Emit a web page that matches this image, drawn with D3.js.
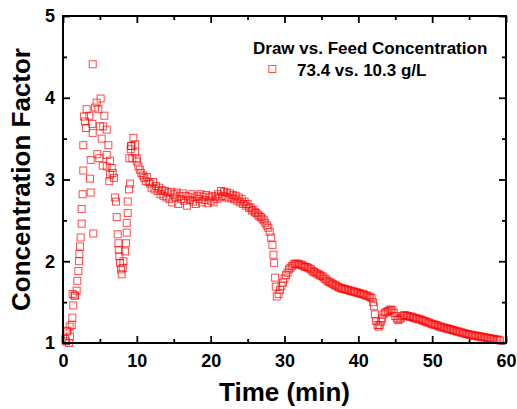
<!DOCTYPE html>
<html><head><meta charset="utf-8">
<script src="https://cdn.jsdelivr.net/npm/d3@7"></script>
<style>
html,body{margin:0;padding:0;background:#fff;}
svg text{font-family:Arial,"Liberation Sans",sans-serif;font-weight:bold;fill:#000;}
</style></head>
<body>
<svg id="chart" width="517" height="409"></svg>
<script>
// ---- data ----
const legendTitle = "Draw vs. Feed Concentration";
const seriesName = "73.4 vs. 10.3 g/L";
const xTicks = [0, 10, 20, 30, 40, 50, 60];
const xMinorTicks = [5, 15, 25, 35, 45, 55];
const yTicks = [1, 2, 3, 4, 5];
const yMinorTicks = [1.5, 2.5, 3.5, 4.5];

// early, scattered part (0 - 10 min)
const earlyTime = [0.3,0.4,0.5,0.6,0.8,0.95,0.9,1.18,1.27,1.31,1.4,1.55,1.63,1.85,1.94,2.08,2.17,2.22,2.3,2.39,2.53,2.53,2.66,2.75,2.75,2.85,2.98,3.12,3.2,3.57,3.66,3.75,3.75,3.97,4.02,4.02,4.1,4.34,4.56,4.65,4.79,4.92,5.0,5.1,5.24,5.38,5.45,5.6,5.92,5.92,5.92,6.14,6.27,6.37,6.37,6.6,6.73,6.9,7.05,7.18,7.27,7.41,7.5,7.55,7.63,7.72,7.86,7.95,8.09,8.18,8.4,8.54,8.63,8.63,8.77,8.77,8.94,8.99,9.08,9.17,9.21,9.27,9.39,9.53,9.76,9.76,9.98];
const earlyFactor = [1.05,1.02,1.14,1.15,1.0,1.08,1.2,1.22,1.31,1.6,1.46,1.58,1.58,1.64,1.76,1.88,2.0,2.09,2.18,2.29,2.46,2.64,2.82,3.11,3.42,3.77,3.71,3.63,3.86,3.78,3.01,2.84,3.24,3.68,3.57,4.41,2.34,3.88,3.94,3.31,3.86,3.26,3.65,3.99,3.5,3.17,3.65,3.78,3.61,3.3,3.16,3.42,2.98,3.23,3.06,3.14,3.08,3.02,2.78,2.73,2.54,2.33,2.22,2.14,2.06,1.98,1.9,1.84,1.92,2.0,2.12,2.22,2.35,2.47,2.59,2.73,2.88,3.26,2.95,3.37,3.41,3.41,3.26,3.51,3.43,3.33,3.26];

// dense part (10 - 59 min)
const denseTime = [10.0,10.2,10.4,10.6,10.8,11.0,11.2,11.4,11.6,11.8,12.0,12.2,12.4,12.6,12.8,13.0,13.2,13.4,13.6,13.8,14.0,14.2,14.4,14.6,14.8,15.0,15.2,15.4,15.6,15.8,16.0,16.2,16.4,16.6,16.8,17.0,17.2,17.4,17.6,17.8,18.0,18.2,18.4,18.6,18.8,19.0,19.2,19.4,19.6,19.8,20.0,20.2,20.4,20.6,20.8,21.0,21.2,21.4,21.6,21.8,22.0,22.2,22.4,22.6,22.8,23.0,23.2,23.4,23.6,23.8,24.0,24.2,24.4,24.6,24.8,25.0,25.2,25.4,25.6,25.8,26.0,26.2,26.4,26.6,26.8,27.0,27.2,27.4,27.6,27.8,28.0,28.2,28.36,28.5,28.6,28.73,28.82,28.95,29.2,29.4,29.6,29.8,30.0,30.2,30.4,30.6,30.8,31.0,31.2,31.4,31.6,31.8,32.0,32.2,32.4,32.6,32.8,33.0,33.2,33.4,33.6,33.8,34.0,34.2,34.4,34.6,34.8,35.0,35.2,35.4,35.6,35.8,36.0,36.2,36.4,36.6,36.8,37.0,37.2,37.4,37.6,37.8,38.0,38.2,38.4,38.6,38.8,39.0,39.2,39.4,39.6,39.8,40.0,40.2,40.4,40.6,40.8,41.0,41.2,41.4,41.6,41.8,42.0,42.1,42.25,42.4,42.6,42.75,42.9,43.05,43.2,43.4,43.6,43.8,44.0,44.2,44.4,44.6,44.8,45.0,45.2,45.4,45.6,45.8,46.0,46.2,46.4,46.6,46.8,47.0,47.2,47.4,47.6,47.8,48.0,48.2,48.4,48.6,48.8,49.0,49.2,49.4,49.6,49.8,50.0,50.2,50.4,50.6,50.8,51.0,51.2,51.4,51.6,51.8,52.0,52.2,52.4,52.6,52.8,53.0,53.2,53.4,53.6,53.8,54.0,54.2,54.4,54.6,54.8,55.0,55.2,55.4,55.6,55.8,56.0,56.2,56.4,56.6,56.8,57.0,57.2,57.4,57.6,57.8,58.0,58.2,58.4,58.6,58.8,59.0,59.2];
const denseFactor = [3.22,3.16,3.12,3.08,3.05,3.02,2.98,3.03,2.97,2.95,2.9,2.97,2.88,2.92,2.86,2.9,2.82,2.87,2.8,2.86,2.78,2.84,2.76,2.85,2.72,2.82,2.78,2.84,2.7,2.8,2.76,2.83,2.74,2.8,2.68,2.79,2.75,2.82,2.73,2.78,2.7,2.8,2.76,2.82,2.72,2.79,2.75,2.81,2.71,2.78,2.74,2.8,2.72,2.79,2.76,2.82,2.78,2.86,2.8,2.85,2.79,2.84,2.77,2.83,2.78,2.81,2.76,2.8,2.74,2.78,2.72,2.76,2.7,2.73,2.68,2.7,2.65,2.66,2.62,2.63,2.6,2.59,2.57,2.55,2.54,2.52,2.5,2.47,2.44,2.41,2.36,2.29,2.2,2.08,1.98,1.8,1.69,1.57,1.6,1.65,1.7,1.74,1.79,1.83,1.86,1.9,1.92,1.94,1.96,1.97,1.97,1.97,1.96,1.96,1.95,1.94,1.93,1.93,1.92,1.91,1.9,1.88,1.87,1.86,1.85,1.84,1.83,1.82,1.81,1.79,1.78,1.76,1.75,1.74,1.73,1.72,1.71,1.7,1.69,1.68,1.67,1.67,1.66,1.66,1.65,1.65,1.64,1.64,1.63,1.63,1.62,1.62,1.61,1.61,1.6,1.6,1.59,1.58,1.58,1.57,1.56,1.55,1.5,1.45,1.35,1.27,1.22,1.2,1.22,1.26,1.3,1.35,1.37,1.38,1.39,1.4,1.41,1.4,1.37,1.33,1.3,1.28,1.29,1.31,1.33,1.34,1.34,1.33,1.33,1.32,1.32,1.31,1.31,1.3,1.3,1.29,1.29,1.28,1.27,1.27,1.26,1.25,1.25,1.24,1.23,1.23,1.22,1.22,1.21,1.2,1.2,1.19,1.19,1.18,1.18,1.17,1.17,1.16,1.16,1.15,1.15,1.14,1.14,1.13,1.13,1.12,1.12,1.11,1.11,1.1,1.1,1.1,1.09,1.09,1.09,1.08,1.08,1.08,1.07,1.07,1.07,1.06,1.06,1.06,1.05,1.05,1.05,1.04,1.04,1.04,1.03];

// ---- chart ----
const svg = d3.select("#chart");
const plotLeft = 63, plotRight = 506, plotTop = 16, plotBottom = 343;
const x = d3.scaleLinear().domain([0, 60]).range([plotLeft, plotRight]);
const y = d3.scaleLinear().domain([1, 5]).range([plotBottom, plotTop]);

const points = earlyTime.map((t, i) => [t, earlyFactor[i]])
  .concat(denseTime.map((t, i) => [t, denseFactor[i]]));

const markerSize = 7;
const red = "rgba(255,0,0,0.7)";

svg.append("g").selectAll("rect").data(points).join("rect")
  .attr("x", d => x(d[0]) - markerSize / 2)
  .attr("y", d => y(d[1]) - markerSize / 2)
  .attr("width", markerSize).attr("height", markerSize)
  .attr("fill", "none").attr("stroke", red).attr("stroke-width", 1);

function styleAxis(g) {
  g.select(".domain").remove();
  g.selectAll("line").attr("stroke", "#000").attr("stroke-width", 1.8);
  g.selectAll("text").style("font-size", "18px").style("font-weight", "bold")
    .style("font-family", "Arial, 'Liberation Sans', sans-serif").attr("fill", "#000");
}

// bottom
svg.append("g").attr("transform", `translate(0,${plotBottom})`)
  .call(d3.axisBottom(x).tickValues(xTicks).tickSize(-7).tickPadding(11).tickFormat(d3.format("d")))
  .call(styleAxis);
svg.append("g").attr("transform", `translate(0,${plotBottom})`)
  .call(d3.axisBottom(x).tickValues(xMinorTicks).tickSize(-4).tickFormat(""))
  .call(styleAxis);
// top
svg.append("g").attr("transform", `translate(0,${plotTop})`)
  .call(d3.axisTop(x).tickValues(xTicks).tickSize(-7).tickFormat(""))
  .call(styleAxis);
svg.append("g").attr("transform", `translate(0,${plotTop})`)
  .call(d3.axisTop(x).tickValues(xMinorTicks).tickSize(-4).tickFormat(""))
  .call(styleAxis);
// left
svg.append("g").attr("transform", `translate(${plotLeft},0)`)
  .call(d3.axisLeft(y).tickValues(yTicks).tickSize(-7).tickPadding(8).tickFormat(d3.format("d")))
  .call(styleAxis);
svg.append("g").attr("transform", `translate(${plotLeft},0)`)
  .call(d3.axisLeft(y).tickValues(yMinorTicks).tickSize(-4).tickFormat(""))
  .call(styleAxis);
// right
svg.append("g").attr("transform", `translate(${plotRight},0)`)
  .call(d3.axisRight(y).tickValues(yTicks).tickSize(-7).tickFormat(""))
  .call(styleAxis);
svg.append("g").attr("transform", `translate(${plotRight},0)`)
  .call(d3.axisRight(y).tickValues(yMinorTicks).tickSize(-4).tickFormat(""))
  .call(styleAxis);

// frame
svg.append("rect").attr("x", plotLeft).attr("y", plotTop)
  .attr("width", plotRight - plotLeft).attr("height", plotBottom - plotTop)
  .attr("fill", "none").attr("stroke", "#000").attr("stroke-width", 2);

// axis titles
svg.append("text").attr("x", (plotLeft + plotRight) / 2).attr("y", 401)
  .attr("text-anchor", "middle").style("font-size", "26px").text("Time (min)");
svg.append("text").attr("transform", `translate(30,${(plotTop + plotBottom) / 2}) rotate(-90)`)
  .attr("text-anchor", "middle").style("font-size", "26px").text("Concentration Factor");

// legend
svg.append("text").attr("x", 253).attr("y", 54).style("font-size", "17px").text(legendTitle);
svg.append("rect").attr("x", 272.3 - markerSize / 2).attr("y", 69 - markerSize / 2)
  .attr("width", markerSize).attr("height", markerSize)
  .attr("fill", "none").attr("stroke", red).attr("stroke-width", 1);
svg.append("text").attr("x", 297).attr("y", 76).style("font-size", "17px").text(seriesName);
</script>
</body></html>
